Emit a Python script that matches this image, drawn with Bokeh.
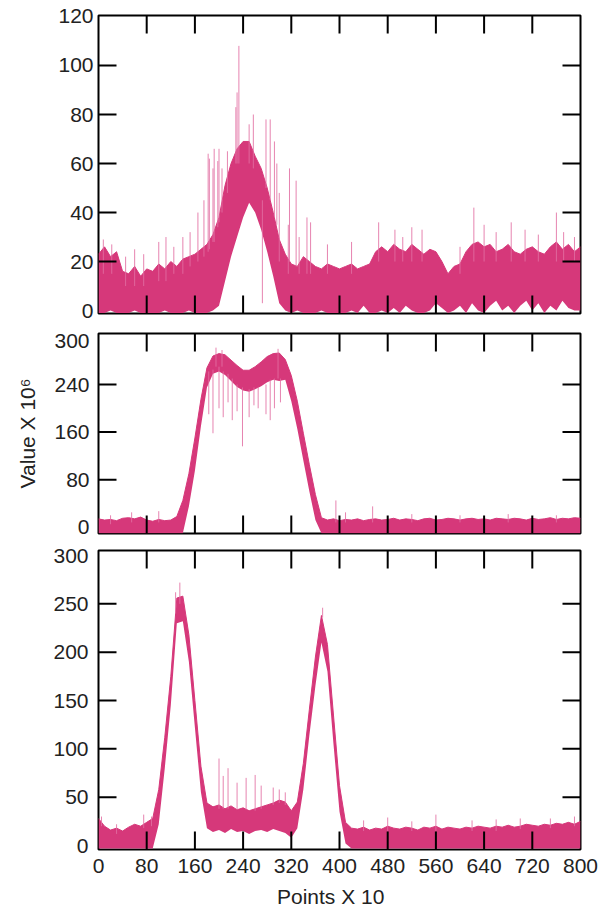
from bokeh.plotting import figure
from bokeh.layouts import column
from bokeh.models import LinearAxis, FixedTicker, Range1d, Div
from bokeh.embed import file_html
from bokeh.resources import INLINE

# ---------------- data ----------------
points = list(range(0, 801, 10))          # Points X 10
x_ticks = [0, 80, 160, 240, 320, 400, 480, 560, 640, 720, 800]
x_tick_marks = [80, 160, 240, 320, 400, 480, 560, 640, 720]

# top panel: envelope of the noisy trace
top_upper = [23, 26, 22, 24, 16, 15, 18, 14, 17, 16,
             19, 17, 20, 18, 21, 22, 23, 25, 27, 31,
             38, 51, 60, 66, 69, 69, 63, 58, 50, 40,
             29, 23, 19, 18, 22, 20, 18, 17, 19, 18,
             17, 18, 19, 17, 18, 19, 24, 26, 24, 27,
             25, 24, 27, 25, 23, 25, 24, 20, 15, 18,
             19, 24, 27, 28, 26, 27, 24, 25, 27, 24,
             23, 25, 26, 24, 23, 26, 28, 25, 27, 24,
             26]
top_lower = [-1, -1, 0, -1, -1, -1, 0, -1, -1, -1,
             -1, 0, -1, -1, -1, 0, -1, -1, -1, 0,
             2, 12, 22, 30, 38, 44, 40, 33, 24, 14,
             3, 0, -1, 0, -1, -1, -1, 0, -1, -1,
             -1, -1, 0, -1, 2, -1, -1, 0, -1, 1,
             -1, 2, 0, -1, -1, 0, 3, 1, -1, 0,
             2, -1, 3, 0, -1, 2, 4, 0, 2, -1,
             2, 4, 0, 3, -1, 2, 0, 4, 1, 0,
             0]
top_spike_x = [8, 22, 45, 60, 75, 100, 112, 125, 140, 152, 165, 175, 182, 184, 190, 192, 198,
               200, 205, 214, 228, 230, 233, 250, 257, 272, 278, 285, 292, 296, 300, 315, 317,
               328, 333, 346, 352, 380, 420, 465, 492, 505, 520, 537, 600, 623, 640, 660, 685,
               708, 730, 760, 772, 790]
top_spike_lo = [15, 15, 10, 10, 10, 12, 12, 15, 15, 18, 20, 22, 24, 25, 28, 28, 34,
                36, 40, 48, 60, 60, 60, 60, 58, 3, 50, 45, 38, 35, 20, 15, 20,
                18, 15, 15, 15, 15, 15, 20, 20, 20, 20, 20, 15, 20, 20, 20, 20,
                20, 20, 20, 20, 20]
top_spike_hi = [29, 27, 22, 25, 23, 28, 30, 26, 30, 32, 40, 45, 64, 62, 58, 66, 61,
                66, 58, 65, 83, 89, 108, 76, 80, 45, 78, 78, 69, 60, 48, 35, 58,
                53, 30, 38, 36, 27, 28, 36, 33, 30, 34, 33, 26, 42, 35, 32, 36,
                33, 31, 40, 32, 30]

# middle panel
mid_upper = [14, 12, 13, 11, 15, 16, 14, 17, 12, 10,
             13, 11, 12, 18, 45, 90, 150, 215, 268, 288,
             292, 290, 281, 272, 264, 264, 270, 278, 287, 292,
             293, 282, 255, 212, 158, 105, 55, 16, 12, 14,
             11, 13, 12, 14, 11, 13, 14, 12, 13, 15,
             12, 14, 13, 11, 14, 15, 12, 13, 15, 14,
             12, 14, 15, 13, 14, 12, 15, 14, 13, 15,
             14, 12, 15, 13, 14, 16, 13, 15, 14, 16,
             15]
mid_lower = [-10, -10, -10, -10, -10, -10, -10, -10, -10, -10,
             -10, -10, -10, -10, -10, 35, 95, 170, 235, 258,
             262, 256, 246, 236, 230, 228, 232, 237, 244, 248,
             246, 248, 212, 165, 112, 60, 12, -10, -10, -10,
             -10, -10, -10, -10, -10, -10, -10, -10, -10, -10,
             -10, -10, -10, -10, -10, -10, -10, -10, -10, -10,
             -10, -10, -10, -10, -10, -10, -10, -10, -10, -10,
             -10, -10, -10, -10, -10, -10, -10, -10, -10, -10,
             -10]
mid_spike_x = [20, 55, 100, 195, 205, 298, 394, 410, 455, 520, 600, 680, 760,
               183, 190, 200, 207, 215, 222, 230, 239, 250, 258, 265, 278, 285, 292, 302]
mid_spike_lo = [5, 8, 8, 270, 270, 250, 8, 8, 8, 8, 8, 8, 8,
                190, 158, 200, 185, 210, 180, 195, 136, 185, 205, 200, 190, 180, 200, 210]
mid_spike_hi = [20, 25, 27, 302, 298, 300, 45, 25, 35, 22, 20, 22, 20,
                262, 265, 270, 262, 258, 250, 240, 235, 232, 235, 236, 240, 248, 250, 250]

# bottom panel
bot_upper = [28, 20, 16, 18, 15, 19, 22, 20, 24, 28,
             58, 112, 175, 256, 258, 218, 150, 82, 44, 40,
             42, 38, 41, 37, 39, 36, 38, 40, 42, 44,
             47, 45, 36, 45, 85, 141, 195, 238, 208, 135,
             62, 24, 18, 17, 19, 16, 18, 17, 20, 18,
             17, 19, 18, 16, 19, 18, 20, 17, 19, 18,
             17, 19, 18, 20, 19, 18, 20, 19, 21, 19,
             20, 22, 21, 20, 22, 21, 23, 22, 24, 22,
             25]
bot_lower = [-3, -3, -3, -3, -3, -3, -3, -3, -3, -3,
             22, 80, 145, 230, 232, 190, 122, 55, 18, 14,
             16, 13, 17, 14, 15, 12, 15, 16, 14, 17,
             15, 13, 8, 18, 58, 114, 165, 210, 180, 105,
             35, 2, -3, -3, -3, -3, -3, -3, -3, -3,
             -3, -3, -3, -3, -3, -3, -3, -3, -3, -3,
             -3, -3, -3, -3, -3, -3, -3, -3, -3, -3,
             -3, -3, -3, -3, -3, -3, -3, -3, -3, -3,
             -3]
bot_spike_x = [5, 30, 75, 88, 128, 135, 200, 207, 215, 230, 245, 260, 270, 290, 300, 310,
               372, 440, 480, 520, 560, 620, 660, 700, 750, 790]
bot_spike_lo = [20, 12, 18, 20, 240, 250, 38, 38, 38, 37, 37, 36, 38, 42, 44, 42,
                236, 15, 15, 15, 15, 15, 15, 17, 18, 20]
bot_spike_hi = [30, 22, 32, 30, 262, 272, 90, 72, 80, 65, 70, 73, 62, 60, 58, 55,
                246, 26, 29, 25, 32, 26, 27, 28, 28, 30]

top_y_labels = [0, 20, 40, 60, 80, 100, 120]
top_y_marks = [20, 40, 60, 80, 100]
mid_y_labels = [0, 80, 160, 240, 314]
mid_y_overrides = {314: "300"}
mid_y_marks = [80, 160, 240]
bot_y_labels = [0, 50, 100, 150, 200, 250, 300]
bot_y_marks = [50, 100, 150, 200, 250]

x_title = "Points X 10"
y_title = "Value X 10\u2076"

# ---------------- style ----------------
COLOR = "#d6387a"
SPIKE = "#e26ea2"
FONT = "Liberation Sans"
TXT = "#222222"
FRAME_W = 482
TICK_PX = 18


def build(height, frame_h, y_start, y_end, y_labels, overrides, y_marks,
          b_top, b_bottom, lab_standoff,
          upper, lower, sx, slo, shi, bottom_labels=False, y_label=None):
    p = figure(width=608, height=height,
               x_range=Range1d(0, 800), y_range=Range1d(y_start, y_end),
               output_backend="svg", toolbar_location=None,
               x_axis_location=None, y_axis_location=None,
               min_border_left=98, min_border_right=28,
               min_border_top=b_top, min_border_bottom=b_bottom)
    p.grid.visible = False
    p.outline_line_color = "black"
    p.outline_line_width = 2
    p.background_fill_color = "white"
    p.border_fill_color = "white"

    # noisy trace: dense band + spikes
    p.varea(x=points, y1=lower, y2=upper, fill_color=COLOR, fill_alpha=1.0)
    p.line(x=points, y=upper, line_color=COLOR, line_width=1)
    p.segment(x0=sx, y0=slo, x1=sx, y1=shi, line_color=SPIKE, line_width=1, line_alpha=0.85)

    # inward tick marks on all four sides
    dx = TICK_PX * 800 / FRAME_W
    dy = TICK_PX * (y_end - y_start) / frame_h
    ny = len(y_marks)
    nx = len(x_tick_marks)
    tk = dict(line_color="black", line_width=2, line_cap="butt")
    p.segment(x0=[0] * ny, y0=y_marks, x1=[dx] * ny, y1=y_marks, **tk)
    p.segment(x0=[800] * ny, y0=y_marks, x1=[800 - dx] * ny, y1=y_marks, **tk)
    p.segment(x0=x_tick_marks, y0=[y_start] * nx, x1=x_tick_marks, y1=[y_start + dy] * nx, **tk)
    p.segment(x0=x_tick_marks, y0=[y_end] * nx, x1=x_tick_marks, y1=[y_end - dy] * nx, **tk)

    left = LinearAxis(ticker=FixedTicker(ticks=y_labels), major_label_overrides=overrides)
    left.axis_line_color = None
    left.major_tick_in = 0
    left.major_tick_out = 0
    left.minor_tick_in = 0
    left.minor_tick_out = 0
    left.major_tick_line_color = None
    left.major_label_text_font = FONT
    left.major_label_text_font_size = "21px"
    left.major_label_text_color = TXT
    left.major_label_standoff = lab_standoff
    if y_label:
        left.axis_label = y_label
        left.axis_label_text_font = FONT
        left.axis_label_text_font_size = "21px"
        left.axis_label_text_font_style = "normal"
        left.axis_label_text_color = TXT
        left.axis_label_standoff = 12
    p.add_layout(left, "left")

    if bottom_labels:
        bottom = LinearAxis(ticker=FixedTicker(ticks=x_ticks))
        bottom.axis_line_color = None
        bottom.major_tick_in = 0
        bottom.major_tick_out = 0
        bottom.minor_tick_in = 0
        bottom.minor_tick_out = 0
        bottom.major_tick_line_color = None
        bottom.major_label_text_font = FONT
        bottom.major_label_text_font_size = "21px"
        bottom.major_label_text_color = TXT
        bottom.major_label_standoff = 9
        p.add_layout(bottom, "below")
    return p


p1 = build(323, 298, -1.2, 120.4, top_y_labels, {}, top_y_marks, 15, 10, 5,
           top_upper, top_lower, top_spike_x, top_spike_lo, top_spike_hi)
p2 = build(216, 200, -10.6, 325.8, mid_y_labels, mid_y_overrides, mid_y_marks, 10, 6, 9,
           mid_upper, mid_lower, mid_spike_x, mid_spike_lo, mid_spike_hi,
           y_label=y_title)
p3 = build(347, 299, -4.1, 305.2, bot_y_labels, {}, bot_y_marks, 11, 37, 10,
           bot_upper, bot_lower, bot_spike_x, bot_spike_lo, bot_spike_hi,
           bottom_labels=True)

xlabel = Div(text=('<div style="margin:0; padding:0 0 0 277px; font-family:\'Liberation Sans\'; '
                   'font-size:21px; line-height:21px; height:21px; color:#222222; white-space:nowrap;">'
                   + x_title + '</div>'),
             width=608, height=21, margin=0)

layout = column(p1, p2, p3, xlabel, spacing=0)

with open("out.html", "w") as f:
    f.write(file_html(layout, INLINE))
